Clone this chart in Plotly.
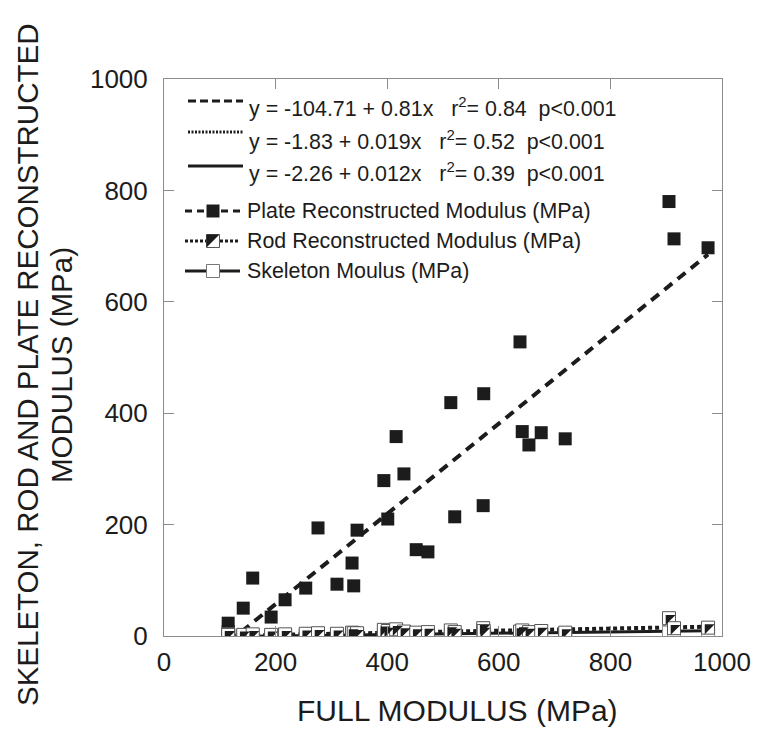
import plotly.graph_objects as go

# ---------------- data ----------------
full_modulus = [115, 115, 142, 159, 192, 217, 254, 276, 310, 337, 340, 346, 394, 401, 416,
                430, 452, 473, 514, 521, 572, 573, 638, 642, 654, 676, 719, 905, 914, 975]
plate_modulus = [23, 8, 50, 104, 34, 65, 86, 194, 93, 131, 90, 190, 279, 210, 358,
                 291, 155, 151, 419, 214, 234, 435, 528, 367, 343, 365, 354, 780, 713, 697]
rod_modulus = [3, 2, 2, 3, 2, 3, 4, 5, 4, 6, 5, 5, 11, 9, 12,
               8, 6, 7, 10, 7, 14, 9, 8, 10, 7, 9, 6, 32, 14, 15]
skeleton_modulus = [0.5, 0.3, 0.5, 0.8, 0.5, 1, 1, 1.5, 1, 2, 1.5, 1, 3, 2.5, 4,
                    2, 2, 1.5, 3, 2, 5, 3, 4, 3, 2, 3, 2, 6, 5, 3]

fit_intercepts = [-104.71, -1.83, -2.26]
fit_slopes = [0.81, 0.019, 0.012]
fit_r2 = ["0.84", "0.52", "0.39"]
fit_p = ["p&lt;0.001", "p&lt;0.001", "p&lt;0.001"]
series_names = ["Plate Reconstructed Modulus (MPa)", "Rod Reconstructed Modulus (MPa)",
                "Skeleton Moulus (MPa)"]
tick_values = [0, 200, 400, 600, 800, 1000]
y_title_lines = ["SKELETON, ROD AND PLATE RECONSTRUCTED", "MODULUS (MPa)"]

FONT = "Liberation Sans, Arial, sans-serif"
INK = "#1c1c1c"
AXC = "#8c8c8c"

OFF = 8  # page body margin
W, H = 754, 730
L, R, T, B = 156, 40, 71, 102
PW, PH = W - L - R, H - T - B


def px(xp):
    return (xp - OFF - L) / PW


def py(yp):
    return (H - B - (yp - OFF)) / PH


xmin, xmax = min(full_modulus), max(full_modulus)
fit_x = [xmin, xmax]
fit_y = [[a + b * x for x in fit_x] for a, b in zip(fit_intercepts, fit_slopes)]

fig = go.Figure()

# plate points
fig.add_trace(go.Scatter(x=full_modulus, y=plate_modulus, mode="markers",
                         marker=dict(symbol="square", size=13, color=INK, line=dict(width=0)),
                         showlegend=False))
# plate fit
fig.add_trace(go.Scatter(x=fit_x, y=fit_y[0], mode="lines",
                         line=dict(color=INK, width=4, dash="10px,7px"), showlegend=False))
# rod fit
fig.add_trace(go.Scatter(x=fit_x, y=fit_y[1], mode="lines",
                         line=dict(color=INK, width=4, dash="4px,3px"), showlegend=False))
# skeleton fit
fig.add_trace(go.Scatter(x=fit_x, y=fit_y[2], mode="lines",
                         line=dict(color=INK, width=3), showlegend=False))
# skeleton points (open squares)
fig.add_trace(go.Scatter(x=full_modulus, y=skeleton_modulus, mode="markers",
                         marker=dict(symbol="square", size=13, color="white",
                                     line=dict(width=1, color="#9a9a9a")),
                         showlegend=False))
# rod points (half-filled squares)
fig.add_trace(go.Scatter(x=full_modulus, y=rod_modulus, mode="markers",
                         marker=dict(symbol="square", size=13, color="white",
                                     line=dict(width=1, color="#555555")),
                         showlegend=False))
fig.add_trace(go.Scatter(x=full_modulus, y=rod_modulus, mode="markers",
                         marker=dict(symbol="triangle-nw", size=11, color=INK, line=dict(width=0)),
                         showlegend=False))

# ---------------- manual legend ----------------
shapes = []
annotations = []
fit_rows = [(101, 107), (132, 140), (166, 172)]
fit_dash = ["8px,4px", "2px,1.5px", "solid"]
for i, (ly, ty) in enumerate(fit_rows):
    shapes.append(dict(type="line", xref="paper", yref="paper",
                       x0=px(188), x1=px(243), y0=py(ly), y1=py(ly),
                       line=dict(color=INK, width=3, dash=fit_dash[i])))
    txt = ("y = %s + %sx\u00a0\u00a0\u00a0r<sup>2</sup>= %s\u00a0\u00a0%s"
           % (fit_intercepts[i], fit_slopes[i], fit_r2[i], fit_p[i]))
    annotations.append(dict(text=txt, xref="paper", yref="paper", x=px(247), y=py(ty),
                            xanchor="left", yanchor="middle", showarrow=False,
                            font=dict(family=FONT, size=21.4, color=INK)))

ser_rows = [211, 241, 271]
ser_dash = ["7px,5px", "3px,2px", "solid"]
for i, ly in enumerate(ser_rows):
    shapes.append(dict(type="line", xref="paper", yref="paper",
                       x0=px(185), x1=px(240), y0=py(ly), y1=py(ly),
                       line=dict(color=INK, width=3, dash=ser_dash[i])))
    annotations.append(dict(text=series_names[i], xref="paper", yref="paper",
                            x=px(245), y=py(ly), xanchor="left", yanchor="middle",
                            showarrow=False, font=dict(family=FONT, size=21.4, color=INK)))

s = 6.5
cx = 213
# plate legend marker
shapes.append(dict(type="rect", xref="paper", yref="paper",
                   x0=px(cx - s), x1=px(cx + s), y0=py(ser_rows[0] + s), y1=py(ser_rows[0] - s),
                   fillcolor=INK, line=dict(width=0)))
# rod legend marker
cy = ser_rows[1]
shapes.append(dict(type="rect", xref="paper", yref="paper",
                   x0=px(cx - s), x1=px(cx + s), y0=py(cy + s), y1=py(cy - s),
                   fillcolor="white", line=dict(width=1, color="#555555")))
shapes.append(dict(type="path", xref="paper", yref="paper",
                   path="M %f %f L %f %f L %f %f Z" % (px(cx - s), py(cy - s), px(cx + s), py(cy - s),
                                                     px(cx - s), py(cy + s)),
                   fillcolor=INK, line=dict(width=0)))
# skeleton legend marker
cy = ser_rows[2]
shapes.append(dict(type="rect", xref="paper", yref="paper",
                   x0=px(cx - s), x1=px(cx + s), y0=py(cy + s), y1=py(cy - s),
                   fillcolor="white", line=dict(width=1, color="#777777")))

# axis titles
annotations.append(dict(text="FULL MODULUS (MPa)", xref="paper", yref="paper",
                        x=px(457), y=py(710), xanchor="center", yanchor="middle",
                        showarrow=False, font=dict(family=FONT, size=30, color=INK)))
for xc, line in zip([27, 61], y_title_lines):
    annotations.append(dict(text=line, xref="paper", yref="paper", x=px(xc), y=py(365),
                            xanchor="center", yanchor="middle", textangle=-90,
                            showarrow=False, font=dict(family=FONT, size=29.5, color=INK)))

axis_common = dict(range=[0, 1000], tickvals=tick_values, ticks="inside", ticklen=10,
                   tickwidth=1, tickcolor=AXC, showline=True, linecolor=AXC, linewidth=1,
                   mirror="ticks", showgrid=False, zeroline=False,
                   tickfont=dict(family=FONT, size=26, color=INK))

fig.update_layout(
    width=W, height=H,
    margin=dict(l=L, r=R, t=T, b=B, pad=0),
    paper_bgcolor="white", plot_bgcolor="white",
    xaxis=dict(**axis_common, ticklabelstandoff=3),
    yaxis=dict(**axis_common, ticklabelstandoff=10),
    shapes=shapes, annotations=annotations,
    showlegend=False,
)

fig.write_html("out.html")
